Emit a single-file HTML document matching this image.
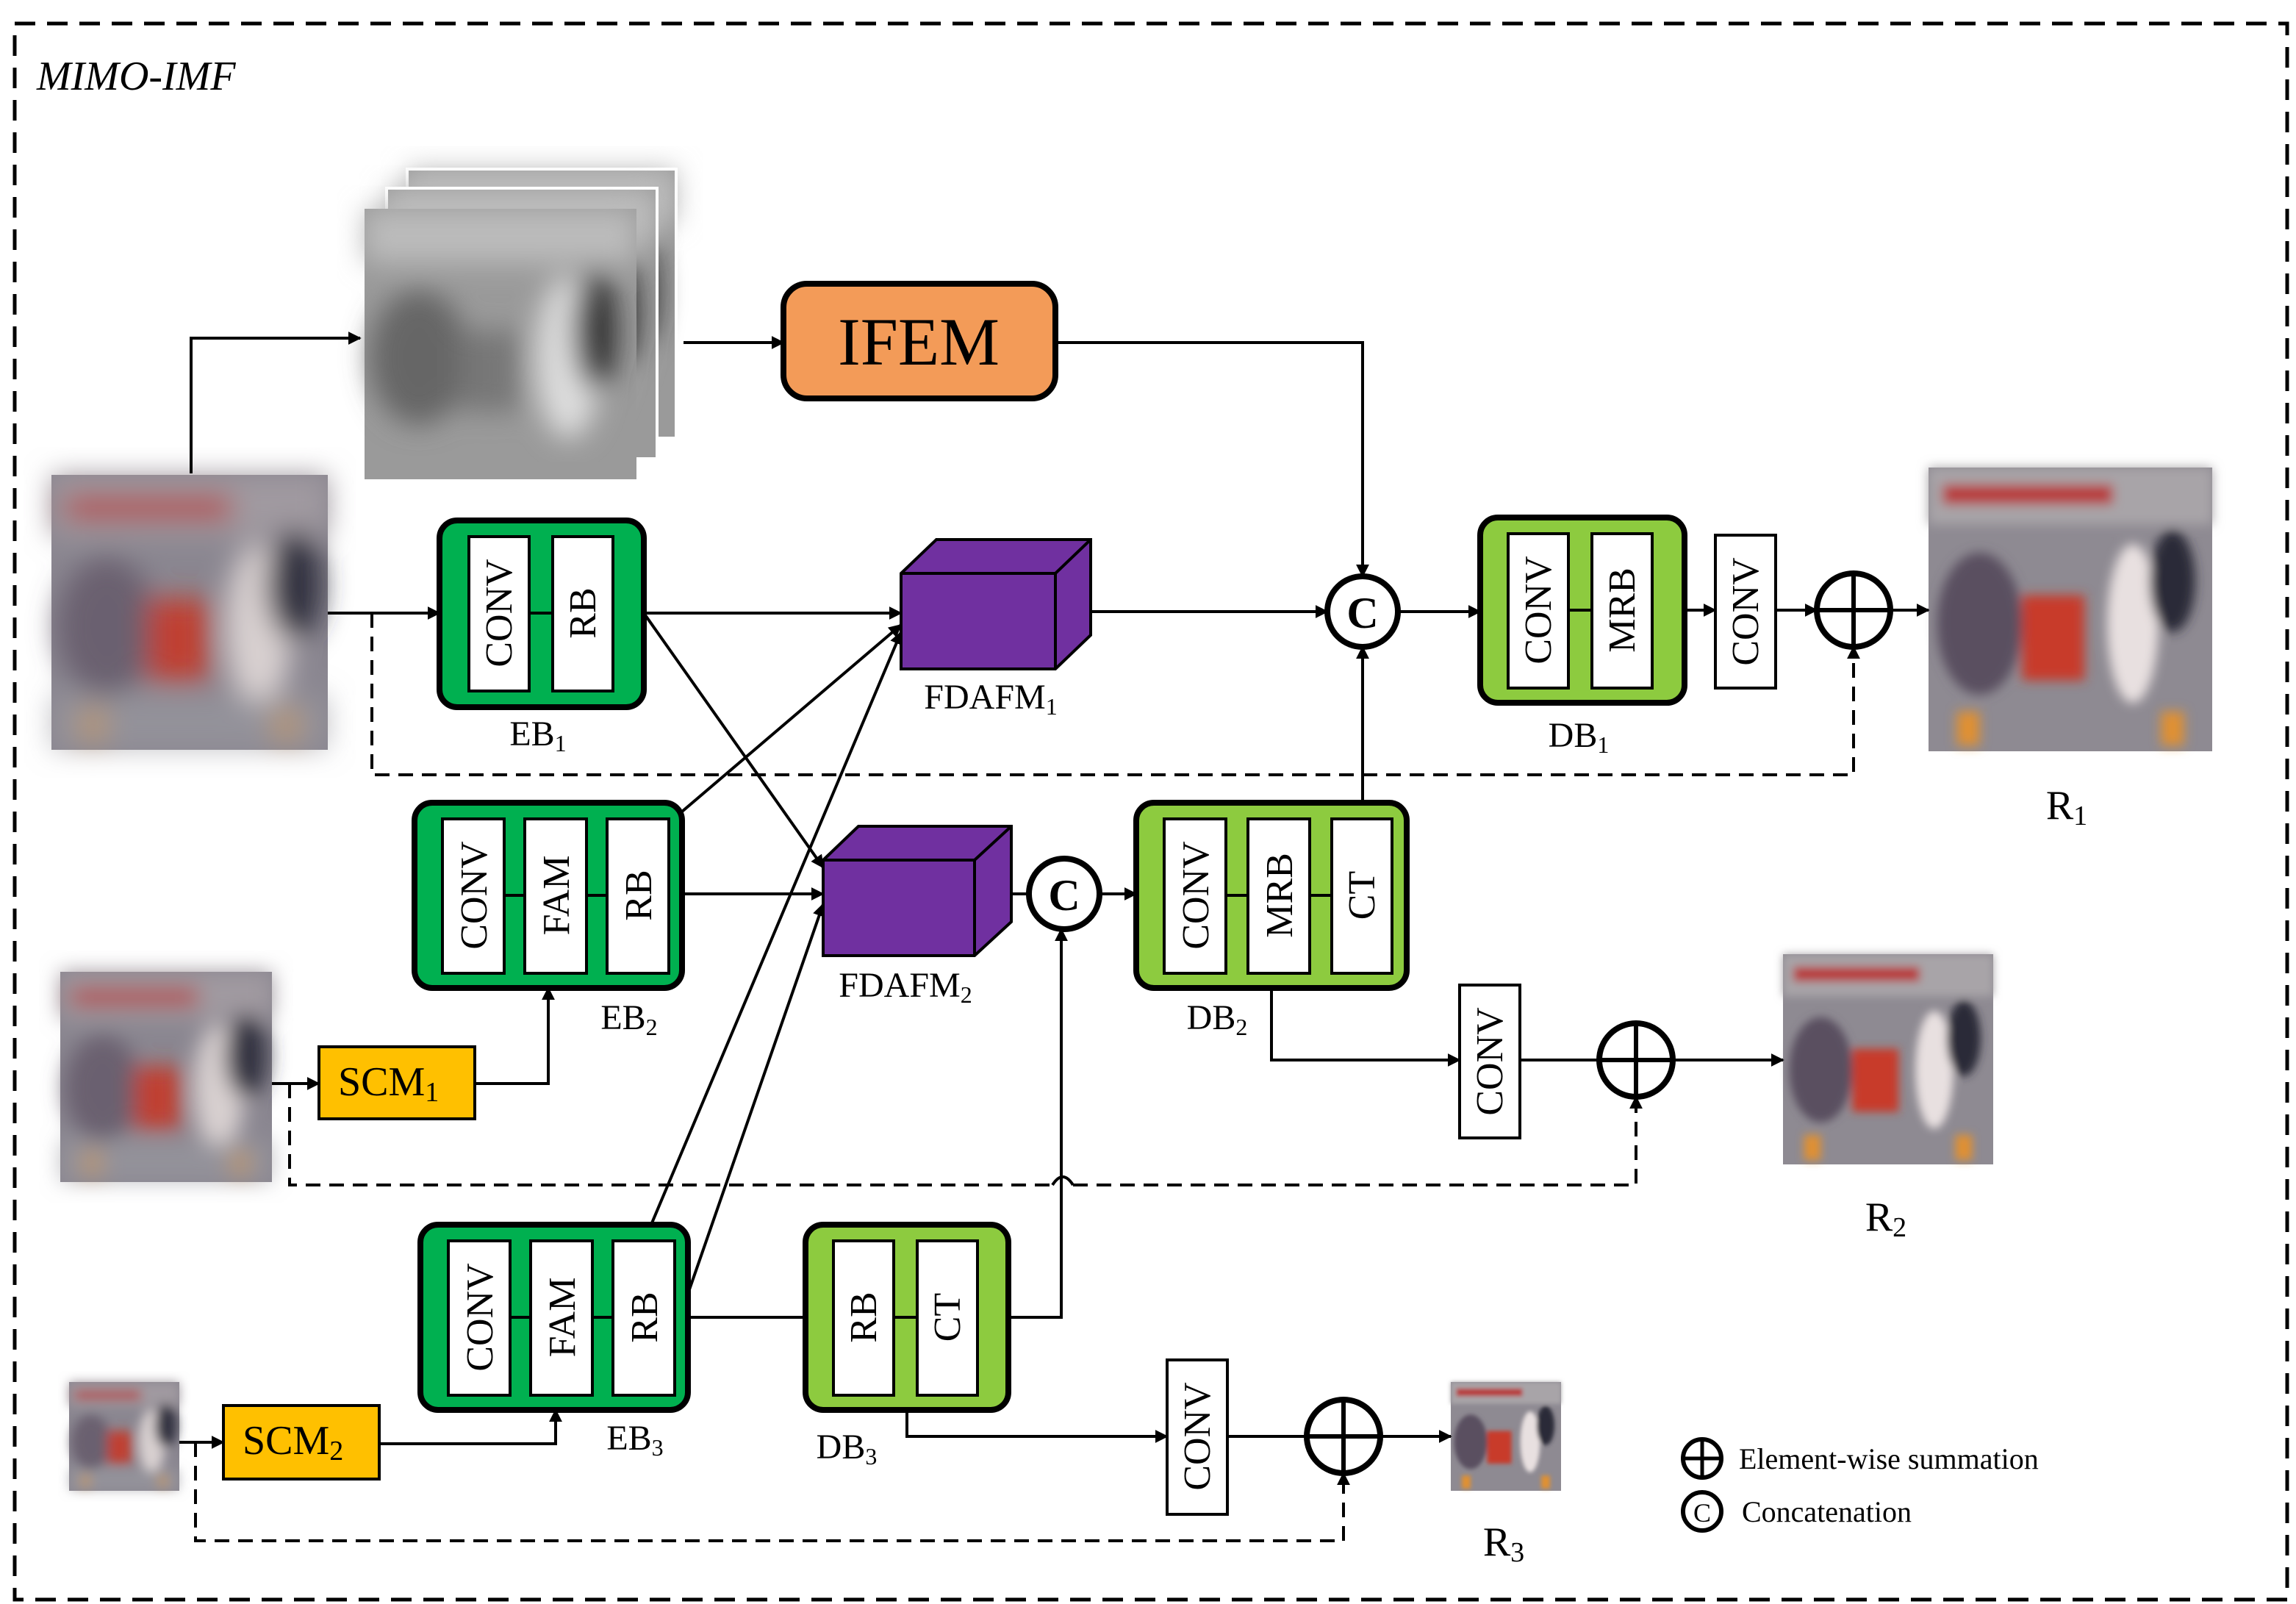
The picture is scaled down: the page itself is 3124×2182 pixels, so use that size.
<!DOCTYPE html>
<html><head><meta charset="utf-8"><style>
html,body{margin:0;padding:0;background:#fff}
svg{display:block}
text{font-family:"Liberation Serif",serif;fill:#000}
</style></head><body>
<svg width="3124" height="2182" viewBox="0 0 1562 1091" xmlns="http://www.w3.org/2000/svg">
<defs>
<marker id="a" viewBox="0 0 10 10" refX="9" refY="5" markerWidth="9" markerHeight="9" markerUnits="userSpaceOnUse" orient="auto"><path d="M0,0L10,5L0,10z" fill="#000"/></marker>
<filter id="bl"><feGaussianBlur stdDeviation="5"/></filter>
<filter id="bl2"><feGaussianBlur stdDeviation="2"/></filter>
<g id="photo">
<rect width="100" height="100" fill="#8a8690"/>
<g filter="url(#bl)">
<rect x="0" y="0" width="100" height="22" fill="#a09aa0"/>
<rect x="5" y="8" width="60" height="8" fill="#b04040"/>
<ellipse cx="20" cy="55" rx="18" ry="25" fill="#6a6070"/>
<rect x="35" y="45" width="22" height="30" fill="#c04030"/>
<ellipse cx="75" cy="55" rx="12" ry="30" fill="#d8d0d0"/>
<ellipse cx="88" cy="40" rx="10" ry="20" fill="#303040"/>
<rect x="10" y="85" width="10" height="12" fill="#e09030"/>
<rect x="80" y="85" width="10" height="12" fill="#e09030"/>
<rect x="0" y="80" width="100" height="20" fill="#9a9aa0" opacity=".6"/>
</g>
</g>
<g id="photos">
<rect width="100" height="100" fill="#8e8a92"/>
<g filter="url(#bl2)">
<rect x="0" y="0" width="100" height="20" fill="#a8a4a8"/>
<rect x="5" y="6" width="60" height="7" fill="#b83a3a"/>
<ellipse cx="18" cy="55" rx="15" ry="25" fill="#5a5060"/>
<rect x="33" y="45" width="22" height="30" fill="#c83a2a"/>
<ellipse cx="72" cy="55" rx="9" ry="28" fill="#e8e0e0"/>
<ellipse cx="86" cy="40" rx="8" ry="18" fill="#2a2a38"/>
<rect x="10" y="86" width="8" height="12" fill="#e09030"/>
<rect x="82" y="86" width="8" height="12" fill="#e09030"/>
</g>
</g>
<g id="gray">
<rect width="100" height="100" fill="#9a9a9a"/>
<g filter="url(#bl)">
<ellipse cx="20" cy="55" rx="18" ry="25" fill="#666"/>
<rect x="35" y="45" width="22" height="30" fill="#777"/>
<ellipse cx="75" cy="55" rx="12" ry="30" fill="#ddd"/>
<ellipse cx="85" cy="45" rx="8" ry="22" fill="#333"/>
<rect x="0" y="0" width="100" height="20" fill="#bbb"/>
</g>
</g>
</defs>

<rect x="10" y="16" width="1546" height="1072" fill="none" stroke="#000" stroke-width="2.5" stroke-dasharray="14,8"/>
<text x="25" y="61" font-size="28" font-style="italic">MIMO-IMF</text>

<!-- gray stack -->
<use href="#gray" transform="translate(277,115) scale(1.83,1.83)"/>
<rect x="277" y="115" width="183" height="183" fill="none" stroke="#fff" stroke-width="2"/>
<use href="#gray" transform="translate(263,128) scale(1.84,1.84)"/>
<rect x="263" y="128" width="184" height="184" fill="none" stroke="#fff" stroke-width="2"/>
<use href="#gray" transform="translate(248,142) scale(1.85,1.84)"/>

<!-- IFEM -->
<rect x="533" y="193" width="185" height="78" rx="16" fill="#F39B58" stroke="#000" stroke-width="4"/>
<text x="625" y="248" font-size="46" text-anchor="middle">IFEM</text>

<!-- images -->
<use href="#photo" transform="translate(35,323) scale(1.88,1.87)"/>
<use href="#photo" transform="translate(41,661) scale(1.44,1.43)"/>
<use href="#photo" transform="translate(47,940) scale(.75,.74)"/>
<use href="#photos" transform="translate(1312,318) scale(1.93,1.93)"/>
<use href="#photos" transform="translate(1213,649) scale(1.43,1.43)"/>
<use href="#photos" transform="translate(987,940) scale(.75,.74)"/>

<g fill="none" stroke="#000" stroke-width="2">
<!-- solid connectors -->
<path d="M130,322V230H245" marker-end="url(#a)"/>
<path d="M465,233H533" marker-end="url(#a)"/>
<path d="M718,233H927V392" marker-end="url(#a)"/>
<path d="M223,417H299" marker-end="url(#a)"/>
<path d="M438,417H613" marker-end="url(#a)"/>
<path d="M438,417L560,590" marker-end="url(#a)"/>
<path d="M464,552L613,425" marker-end="url(#a)"/>
<path d="M464,608H560" marker-end="url(#a)"/>
<path d="M443,833L613,430" marker-end="url(#a)"/>
<path d="M468,880L560,615" marker-end="url(#a)"/>
<path d="M742,416H903" marker-end="url(#a)"/>
<path d="M951,416H1007" marker-end="url(#a)"/>
<path d="M1146,415H1167" marker-end="url(#a)"/>
<path d="M1208,415H1236" marker-end="url(#a)"/>
<path d="M1286,415H1312" marker-end="url(#a)"/>
<path d="M927,546V440" marker-end="url(#a)"/>
<path d="M688,608H700"/>
<path d="M748,608H773" marker-end="url(#a)"/>
<path d="M865,672V721H993" marker-end="url(#a)"/>
<path d="M1034,721H1088"/>
<path d="M1138,721H1213" marker-end="url(#a)"/>
<path d="M185,737H217" marker-end="url(#a)"/>
<path d="M323,737H373V672" marker-end="url(#a)"/>
<path d="M686,896H722V632" marker-end="url(#a)"/>
<path d="M468,896H548"/>
<path d="M617,959V977H794" marker-end="url(#a)"/>
<path d="M835,977H889"/>
<path d="M939,977H987" marker-end="url(#a)"/>
<path d="M122,981H152" marker-end="url(#a)"/>
<path d="M258,982H378V959" marker-end="url(#a)"/>
</g>
<g fill="none" stroke="#000" stroke-width="2" stroke-dasharray="10,6">
<path d="M253,417V527H1261V440" marker-end="url(#a)"/>
<path d="M197,737V806H716M730,806H1113V746" marker-end="url(#a)"/>
<path d="M133,981V1048H914V1002" marker-end="url(#a)"/>
</g>
<path d="M716,806Q723,795 730,806" fill="none" stroke="#000" stroke-width="2"/>

<!-- blocks -->
<g stroke="#000" stroke-width="4">
<rect x="299" y="354" width="139" height="127" rx="12" fill="#00B050"/>
<rect x="282" y="546" width="182" height="126" rx="12" fill="#00B050"/>
<rect x="286" y="833" width="182" height="126" rx="12" fill="#00B050"/>
<rect x="1007" y="352" width="139" height="126" rx="12" fill="#8DCB3F"/>
<rect x="773" y="546" width="184" height="126" rx="12" fill="#8DCB3F"/>
<rect x="548" y="833" width="138" height="126" rx="12" fill="#8DCB3F"/>
</g>
<g stroke="#000" stroke-width="2" fill="#fff">
<rect x="319" y="365" width="41" height="105"/><rect x="376" y="365" width="41" height="105"/>
<rect x="301" y="557" width="42" height="105"/><rect x="357" y="557" width="42" height="105"/><rect x="413" y="557" width="42" height="105"/>
<rect x="305" y="844" width="42" height="105"/><rect x="361" y="844" width="42" height="105"/><rect x="417" y="844" width="42" height="105"/>
<rect x="1026" y="363" width="41" height="105"/><rect x="1083" y="363" width="41" height="105"/>
<rect x="792" y="557" width="42" height="105"/><rect x="849" y="557" width="42" height="105"/><rect x="906" y="557" width="41" height="105"/>
<rect x="567" y="844" width="41" height="105"/><rect x="624" y="844" width="41" height="105"/>
<rect x="1167" y="364" width="41" height="104"/>
<rect x="993" y="670" width="41" height="104"/>
<rect x="794" y="925" width="41" height="105"/>
</g>
<g stroke="#000" stroke-width="2">
<path d="M360,417H376M343,609H357M399,609H413M347,896H361M403,896H417M1067,415H1083M834,609H849M891,609H906M608,896H624"/>
</g>
<g font-size="26" text-anchor="middle">
<text transform="translate(348,417) rotate(-90)">CONV</text>
<text transform="translate(405,417) rotate(-90)">RB</text>
<text transform="translate(331,609) rotate(-90)">CONV</text>
<text transform="translate(387,609) rotate(-90)">FAM</text>
<text transform="translate(443,609) rotate(-90)">RB</text>
<text transform="translate(335,896) rotate(-90)">CONV</text>
<text transform="translate(391,896) rotate(-90)">FAM</text>
<text transform="translate(447,896) rotate(-90)">RB</text>
<text transform="translate(1055,415) rotate(-90)">CONV</text>
<text transform="translate(1112,415) rotate(-90)">MRB</text>
<text transform="translate(822,609) rotate(-90)">CONV</text>
<text transform="translate(879,609) rotate(-90)">MRB</text>
<text transform="translate(935,609) rotate(-90)">CT</text>
<text transform="translate(596,896) rotate(-90)">RB</text>
<text transform="translate(653,896) rotate(-90)">CT</text>
<text transform="translate(1196,416) rotate(-90)">CONV</text>
<text transform="translate(1022,722) rotate(-90)">CONV</text>
<text transform="translate(823,977) rotate(-90)">CONV</text>
</g>

<!-- cubes -->
<g stroke="#000" stroke-width="2" fill="#7030A0">
<path d="M613,390L637,367H742V432L718,455H613Z"/>
<path d="M613,390H718L742,367M718,390V455" fill="none"/>
<path d="M560,585L584,562H688V627L663,650H560Z"/>
<path d="M560,585H663L688,562M663,585V650" fill="none"/>
</g>

<!-- SCM -->
<rect x="217" y="712" width="106" height="49" fill="#FFC000" stroke="#000" stroke-width="2"/>
<text x="230" y="745" font-size="28">SCM<tspan font-size="19" dy="4">1</tspan></text>
<rect x="152" y="956" width="106" height="50" fill="#FFC000" stroke="#000" stroke-width="2"/>
<text x="165" y="989" font-size="28">SCM<tspan font-size="19" dy="4">2</tspan></text>

<!-- circles -->
<g fill="#fff" stroke="#000" stroke-width="4">
<circle cx="927" cy="416" r="24"/><circle cx="724" cy="608" r="24"/>
<circle cx="1261" cy="415" r="25"/><circle cx="1113" cy="721" r="25"/><circle cx="914" cy="977" r="25"/>
</g>
<g stroke="#000" stroke-width="3"><path d="M1236,415H1286M1261,390V440M1088,721H1138M1113,696V746M889,977H939M914,952V1002"/></g>
<text x="927" y="427" font-size="30" font-weight="bold" text-anchor="middle">C</text>
<text x="724" y="619" font-size="30" font-weight="bold" text-anchor="middle">C</text>

<!-- labels -->
<g font-size="24" text-anchor="middle">
<text x="366" y="507">EB<tspan font-size="16" dy="4">1</tspan></text>
<text x="428" y="700">EB<tspan font-size="16" dy="4">2</tspan></text>
<text x="432" y="986">EB<tspan font-size="16" dy="4">3</tspan></text>
<text x="1074" y="508">DB<tspan font-size="16" dy="4">1</tspan></text>
<text x="828" y="700">DB<tspan font-size="16" dy="4">2</tspan></text>
<text x="576" y="992">DB<tspan font-size="16" dy="4">3</tspan></text>
<text x="674" y="482">FDAFM<tspan font-size="16" dy="4">1</tspan></text>
<text x="616" y="678">FDAFM<tspan font-size="16" dy="4">2</tspan></text>
</g>
<g font-size="28" text-anchor="middle">
<text x="1406" y="557">R<tspan font-size="19" dy="4">1</tspan></text>
<text x="1283" y="837">R<tspan font-size="19" dy="4">2</tspan></text>
<text x="1023" y="1058">R<tspan font-size="19" dy="4">3</tspan></text>
</g>

<!-- legend -->
<circle cx="1158" cy="992" r="13" fill="#fff" stroke="#000" stroke-width="3"/>
<path d="M1145,992H1171M1158,979V1005" stroke="#000" stroke-width="2.5"/>
<text x="1183" y="999" font-size="20">Element-wise summation</text>
<circle cx="1158" cy="1028" r="13" fill="#fff" stroke="#000" stroke-width="3"/>
<text x="1158" y="1035" font-size="18" text-anchor="middle">C</text>
<text x="1185" y="1035" font-size="20">Concatenation</text>
</svg>
</body></html>
